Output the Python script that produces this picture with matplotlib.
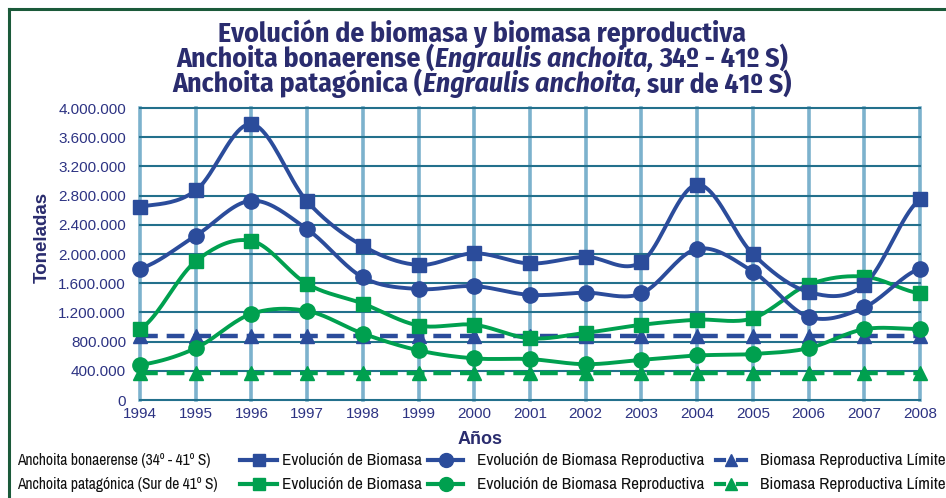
import numpy as np
import matplotlib
matplotlib.use("Agg")
import matplotlib.pyplot as plt
from matplotlib.lines import Line2D

years = list(range(1994, 2009))
bon_biomasa = [2650000, 2870000, 3780000, 2720000, 2110000, 1850000, 2010000, 1870000,
               1960000, 1890000, 2950000, 2000000, 1480000, 1580000, 2750000]
bon_reprod = [1800000, 2250000, 2730000, 2340000, 1680000, 1520000, 1560000, 1440000,
              1470000, 1460000, 2070000, 1760000, 1140000, 1270000, 1800000]
pat_biomasa = [970000, 1900000, 2180000, 1590000, 1320000, 1020000, 1030000, 845000,
               920000, 1030000, 1100000, 1120000, 1580000, 1690000, 1460000]
pat_reprod = [480000, 710000, 1180000, 1220000, 910000, 680000, 570000, 560000,
              490000, 550000, 610000, 630000, 710000, 970000, 970000]
bon_limite = 870000
pat_limite = 370000
y_ticks = [0, 400000, 800000, 1200000, 1600000, 2000000, 2400000, 2800000, 3200000, 3600000, 4000000]
y_ticklabels = ["0", "400.000", "800.000", "1.200.000", "1.600.000", "2.000.000",
                "2.400.000", "2.800.000", "3.200.000", "3.600.000", "4.000.000"]

BLUE = "#2b4c9b"
GREEN = "#00a04f"
NAVY = "#2a2c6e"
TICK = "#2d3383"
VGRID = "#7cb2cd"
HGRID = "#23708c"
TITLE_FONT = "Fira Sans Condensed"
LEG_FONT = "Archivo Narrow"


def smooth(x, y, n=20):
    x = np.asarray(x, float)
    y = np.asarray(y, float)
    xs, ys = [], []
    m = len(y)
    for i in range(m - 1):
        p0 = y[max(i - 1, 0)]
        p1 = y[i]
        p2 = y[i + 1]
        p3 = y[min(i + 2, m - 1)]
        t = np.linspace(0, 1, n, endpoint=False)
        yy = 0.5 * ((2 * p1) + (-p0 + p2) * t + (2 * p0 - 5 * p1 + 4 * p2 - p3) * t ** 2
                    + (-p0 + 3 * p1 - 3 * p2 + p3) * t ** 3)
        xx = x[i] + (x[i + 1] - x[i]) * t
        xs.append(xx)
        ys.append(yy)
    xs.append([x[-1]])
    ys.append([y[-1]])
    return np.concatenate(xs), np.concatenate(ys)


fig = plt.figure(figsize=(9.46, 4.98), dpi=100)
W, H = 946, 498
renderer = fig.canvas.get_renderer()
ax = fig.add_axes([140 / W, 1 - 400 / H, (920 - 140) / W, (400 - 108) / H])

ax.set_xlim(1994, 2008)
ax.set_ylim(0, 4000000)
for s in ax.spines.values():
    s.set_visible(False)

for yv in y_ticks:
    ax.axhline(yv, color=HGRID, lw=1.5, zorder=1, clip_on=False)
for xv in years:
    ax.axvline(xv, color=VGRID, lw=2.6, zorder=0.9, clip_on=False)

ax.set_yticks(y_ticks)
ax.set_yticklabels(y_ticklabels)
ax.set_xticks(years)
ax.set_xticklabels([str(y) for y in years])
ax.tick_params(axis="both", length=0, labelsize=11, labelcolor=TICK)
ax.tick_params(axis="y", pad=10)
ax.tick_params(axis="x", pad=5)
for lab in ax.get_xticklabels() + ax.get_yticklabels():
    lab.set_fontfamily("Liberation Sans")

ms = 9.8
ax.plot(years, [pat_limite] * len(years), color=GREEN, lw=3.2, ls=(0, (4, 2)),
        marker="^", ms=ms, zorder=3, clip_on=False)
ax.plot(years, [bon_limite] * len(years), color=BLUE, lw=3.2, ls=(0, (4, 2)),
        marker="^", ms=ms, zorder=3, clip_on=False)

for data, col, mk in [(pat_reprod, GREEN, "o"), (pat_biomasa, GREEN, "s"),
                      (bon_reprod, BLUE, "o"), (bon_biomasa, BLUE, "s")]:
    sx, sy = smooth(years, data)
    ax.plot(sx, sy, color=col, lw=2.8, zorder=4, clip_on=False, solid_capstyle="round")
    ax.plot(years, data, ls="none", marker=mk, color=col, ms=ms if mk == "s" else 11,
            zorder=5, clip_on=False)

ax.set_ylabel("Toneladas", fontsize=13.5, fontweight="bold", color=NAVY,
              family="Liberation Sans")
ax.yaxis.set_label_coords(-0.114, 0.556)
fig.text(480 / W, 1 - 439 / H, "Años", ha="center", va="center", fontsize=13,
         fontweight="bold", color=NAVY, family="Liberation Sans")


def width_of(s, **kw):
    t = fig.text(0, 0, s, **kw)
    w = t.get_window_extent(renderer).width
    t.remove()
    return w


title_lines = [
    [("Evolución de biomasa y biomasa reproductiva", "normal", False)],
    [("Anchoita bonaerense (", "normal", False), ("Engraulis anchoita,", "italic", False),
     ("34º - 41º S)", "normal", True)],
    [("Anchoita patagónica (", "normal", False), ("Engraulis anchoita,", "italic", False),
     ("sur de 41º S)", "normal", True)],
]
baselines = [41.7, 66.9, 92.3]
base_fs = 16.0


def line_width(pieces, fs):
    total = 0
    sp = width_of("x x", fontsize=fs, family=TITLE_FONT, fontweight="bold") - \
        width_of("xx", fontsize=fs, family=TITLE_FONT, fontweight="bold")
    ws = []
    for txt, style, lead in pieces:
        w = width_of(txt, fontsize=fs, family=TITLE_FONT, fontweight="bold", style=style)
        if lead:
            total += sp
        ws.append((w, sp if lead else 0))
        total += w
    return total, ws


w2, _ = line_width(title_lines[1], base_fs)
title_fs = base_fs * 612.0 / w2
for pieces, bl in zip(title_lines, baselines):
    total, ws = line_width(pieces, title_fs)
    x = 482 - total / 2
    for (txt, style, lead), (w, sp) in zip(pieces, ws):
        x += sp
        fig.text(x / W, 1 - bl / H, txt, ha="left", va="baseline", fontsize=title_fs,
                 fontweight="bold", style=style, color=NAVY, family=TITLE_FONT)
        x += w

fig.add_artist(Line2D([9 / W, 9 / W], [0, 1 - 9 / H], color="#1b5a3a", lw=2.2))
fig.add_artist(Line2D([9 / W, 1], [1 - 9 / H, 1 - 9 / H], color="#1b5a3a", lw=2.2))

rows = [("Anchoita bonaerense (34º - 41º S)", BLUE, 460),
        ("Anchoita patagónica (Sur de 41º S)", GREEN, 484)]
items = [(240, 277, 282, "s", "-", "Evolución de Biomasa"),
         (428, 463, 477, "o", "-", "Evolución de Biomasa Reproductiva"),
         (716, 746, 760, "^", "--", "Biomasa Reproductiva Límite")]
lw0 = width_of("Evolución de Biomasa", fontsize=10, family=LEG_FONT)
leg_fs = 10 * 140.0 / lw0
lr = width_of("Anchoita patagónica (Sur de 41º S)", fontsize=10, family=LEG_FONT)
row_fs = 10 * 202.0 / lr
for label, col, ypx in rows:
    yf = 1 - ypx / H
    fig.text(17 / W, yf, label, ha="left", va="center", fontsize=row_fs, color="#111111",
             family=LEG_FONT)
    for x0, x1, xt, mk, ls, txt in items:
        if ls == "-":
            fig.add_artist(Line2D([x0 / W, x1 / W], [yf, yf], color=col, lw=3))
        else:
            fig.add_artist(Line2D([x0 / W, (x0 + 8) / W], [yf, yf], color=col, lw=3))
            fig.add_artist(Line2D([(x1 - 8) / W, x1 / W], [yf, yf], color=col, lw=3))
        fig.add_artist(Line2D([(x0 + x1) / 2 / W], [yf], marker=mk, color=col,
                              ms=9 if mk != "o" else 10, ls="none"))
        fig.text(xt / W, yf, txt, ha="left", va="center", fontsize=leg_fs, color="#111111",
                 family=LEG_FONT)

fig.savefig("out.png", dpi=100)
